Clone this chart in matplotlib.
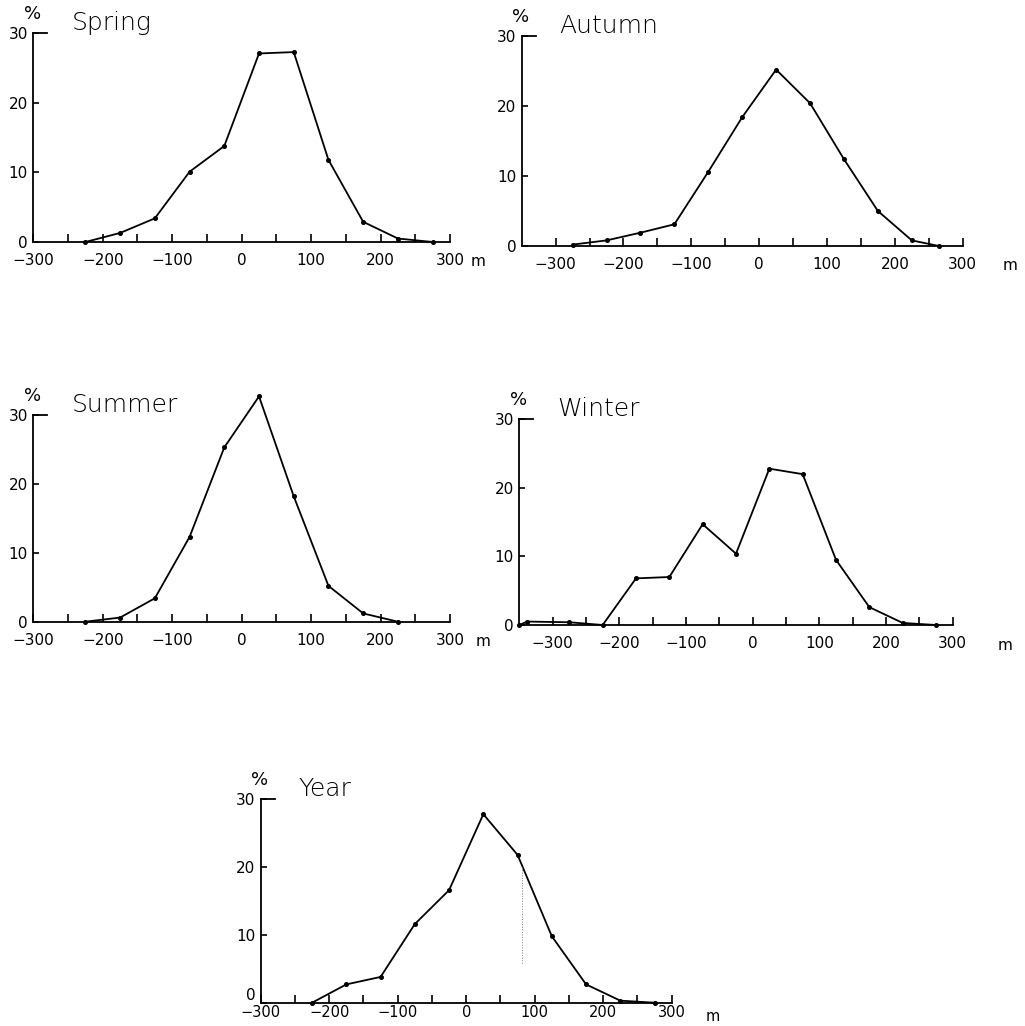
import matplotlib
matplotlib.use("Agg")
from matplotlib import pyplot as plt

# bin centres (m) and frequency (%)
spring_x = [-225, -175, -125, -75, -25, 25, 75, 125, 175, 225, 275]
spring_y = [0, 1.3, 3.4, 10.1, 13.8, 27.1, 27.3, 11.8, 2.9, 0.5, 0]

autumn_x = [-275, -225, -175, -125, -75, -25, 25, 75, 125, 175, 225, 265]
autumn_y = [0.2, 0.8, 1.9, 3.1, 10.6, 18.4, 25.2, 20.4, 12.4, 5.0, 0.8, 0]

summer_x = [-225, -175, -125, -75, -25, 25, 75, 125, 175, 225]
summer_y = [0, 0.6, 3.4, 12.3, 25.3, 32.7, 18.2, 5.2, 1.2, 0]

winter_x = [-350, -338, -275, -225, -175, -125, -75, -25, 25, 75, 125, 175, 225, 275]
winter_y = [0, 0.5, 0.4, 0, 6.8, 7.0, 14.7, 10.4, 22.8, 22.0, 9.5, 2.6, 0.3, 0]

year_x = [-225, -175, -125, -75, -25, 25, 75, 125, 175, 225, 275]
year_y = [0, 2.7, 3.8, 11.6, 16.6, 27.8, 21.8, 9.8, 2.7, 0.3, 0]

W, H = 1025, 1026
fig = plt.figure(figsize=(W / 100, H / 100), dpi=100)


def panel(name, xs, ys, left, right, y0, y30, xlo, m_off, xpad=8, xsize=11):
    ax = fig.add_axes([left / W, 1 - y0 / H, (right - left) / W, (y0 - y30) / H])
    ax.plot(xs, ys, color="black", lw=1.3, marker="o", ms=2.6, clip_on=False)
    ax.set_xlim(xlo, 300)
    ax.set_ylim(0, 30)
    ax.spines["top"].set_visible(False)
    ax.spines["right"].set_visible(False)
    for s in ["left", "bottom"]:
        ax.spines[s].set_linewidth(1.3)
    ax.set_xticks(range(-300, 301, 100))
    ax.set_xticklabels(["\u2212300", "\u2212200", "\u2212100", "0", "100", "200", "300"])
    ax.set_xticks(range(-250, 300, 50), minor=True)
    ax.set_yticks([0, 10, 20, 30])
    ax.tick_params(axis="x", which="both", direction="in", length=6, width=1.2,
                   pad=xpad, labelsize=xsize)
    ax.tick_params(axis="y", direction="in", length=4, width=1.2, pad=4, labelsize=11)
    # longer bracket tick at 30
    wpx = right - left
    hpx = y0 - y30
    ax.plot([0, 14 / wpx], [1, 1], color="black", lw=1.3,
            transform=ax.transAxes, clip_on=False)
    ax.text(-1 / wpx, 1 + 19 / hpx, "%", transform=ax.transAxes, fontsize=13,
            ha="center", va="center")
    ax.text(38 / wpx, 1 + 3 / hpx, name, transform=ax.transAxes, fontsize=18,
            ha="left", va="baseline", fontweight="light")
    ax.text(1 + m_off / wpx, -(xpad + 12) / hpx, "m", transform=ax.transAxes,
            fontsize=xsize, ha="center", va="center")
    return ax


panel("Spring", spring_x, spring_y, 33.3, 450, 242, 33.3, -300, 28)
panel("Autumn", autumn_x, autumn_y, 521.7, 962.7, 246, 36, -350, 47)
panel("Summer", summer_x, summer_y, 33.3, 450, 621.7, 415, -300, 33)
panel("Winter", winter_x, winter_y, 519.3, 952.7, 625, 419.3, -350, 52)
ax = panel("Year", year_x, year_y, 260.7, 671.7, 1002.7, 799.3, -300, 41,
           xpad=2, xsize=10.5)
# the "0" of the Year panel sits on top of the axis line
ax.get_yticklabels()[0].set_verticalalignment("bottom")

# faint dotted stroke in the Year panel
year_mark_x = [81, 81]
year_mark_y = [20, 5.5]
ax.plot(year_mark_x, year_mark_y, color="gray", lw=0.7, ls=":")

fig.savefig("out.png", dpi=100)
